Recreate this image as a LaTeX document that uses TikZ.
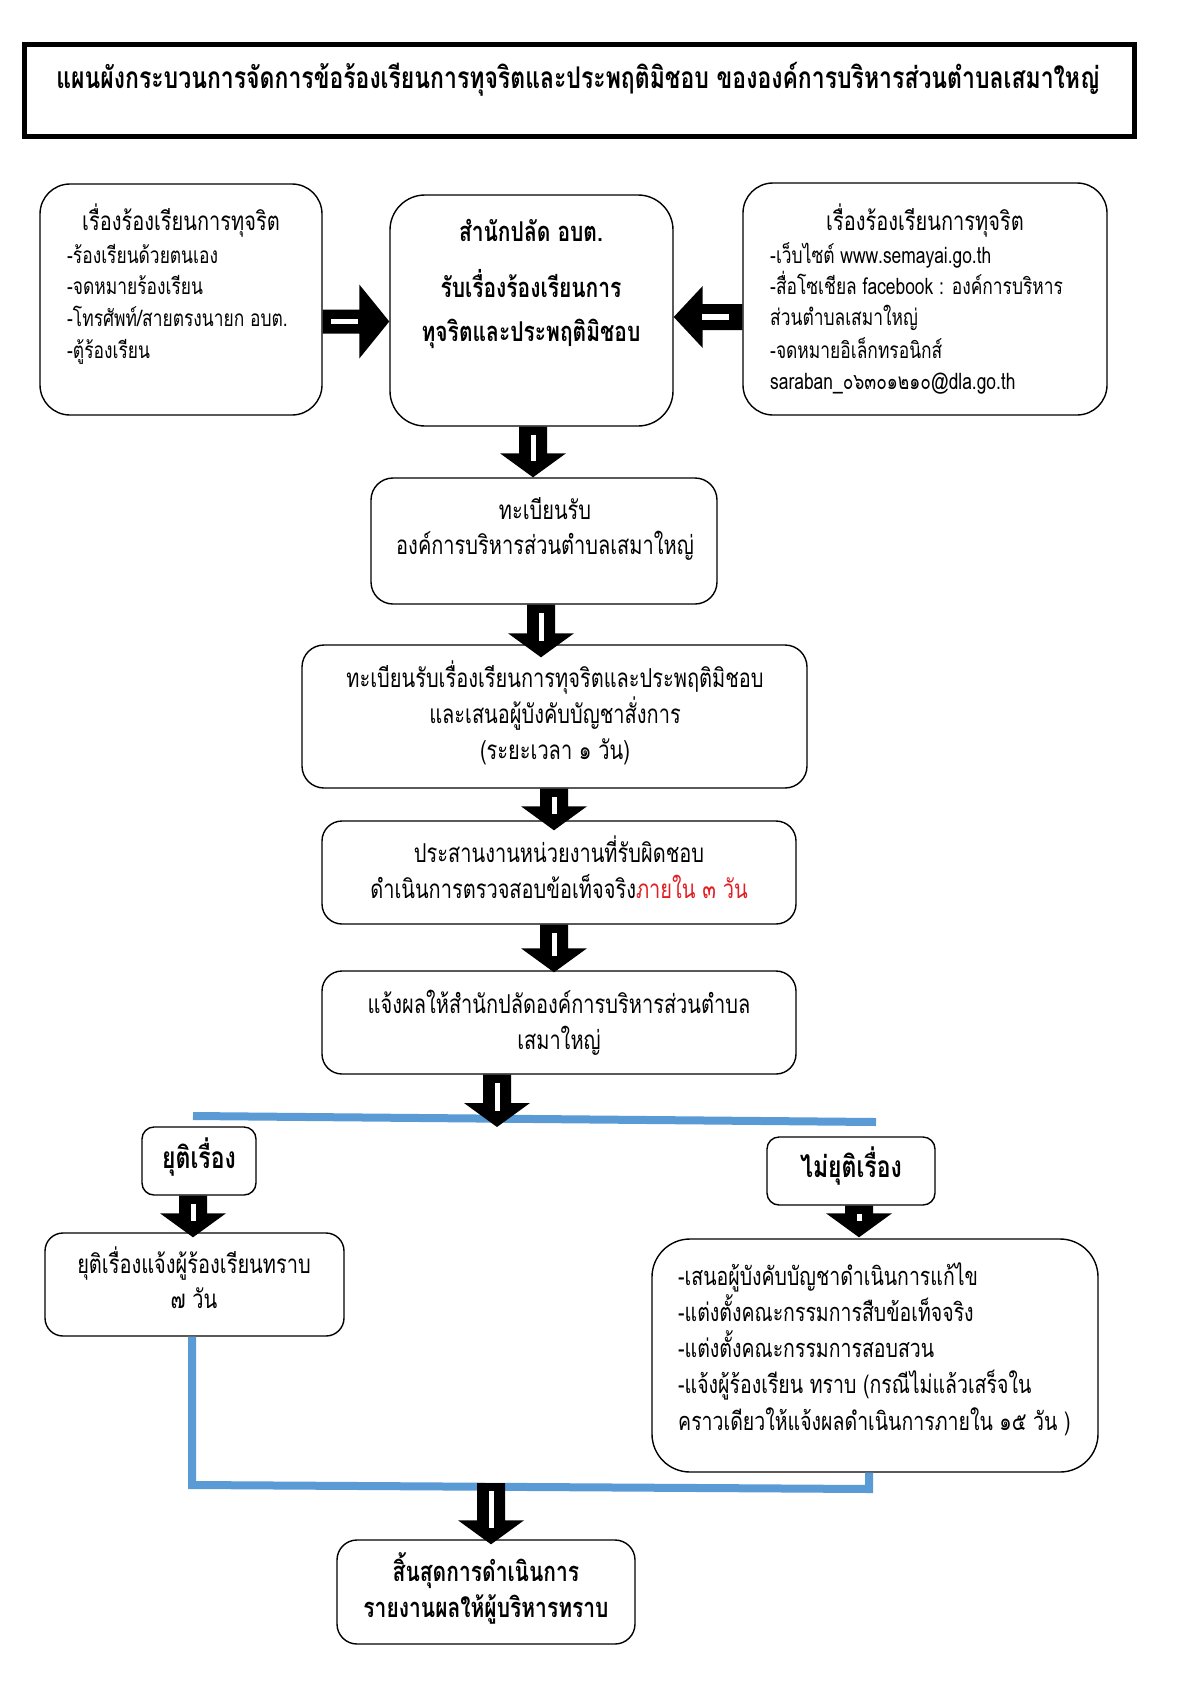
\documentclass[tikz,border=0pt]{standalone}
\usepackage{graphicx}
\usepackage{fontspec}
\setmainfont{Loma}[Script=Thai]
\usetikzlibrary{calc}
\definecolor{lineblue}{RGB}{91,155,213}
\definecolor{txtred}{RGB}{225,30,35}
\newcommand\vs[1]{\scalebox{1}[1.3]{#1}}
% block arrow pointing down: #1 start (top), #2 tip (y used)
\newcommand\blkdown[2]{%
 \fill let \p1=#1, \p2=#2 in (\x1-14pt,\y1) -- (\x1+14pt,\y1) -- (\x1+14pt,\y2+24pt) -- (\x1+33pt,\y2+24pt) -- (\x1,\y2) -- (\x1-33pt,\y2+24pt) -- (\x1-14pt,\y2+24pt) -- cycle;
 \fill[white] let \p1=#1, \p2=#2 in (\x1-2.5pt,\y1-8pt) rectangle (\x1+2.5pt,\y2+16pt);
}
% block arrow pointing right: #1 start, #2 tip
\newcommand\blkright[2]{%
 \fill let \p1=#1, \p2=#2 in (\x1,\y1+12pt) -- (\x2-30pt,\y1+12pt) -- (\x2-30pt,\y1+37pt) -- (\x2,\y1) -- (\x2-30pt,\y1-37pt) -- (\x2-30pt,\y1-12pt) -- (\x1,\y1-12pt) -- cycle;
 \fill[white] let \p1=#1, \p2=#2 in (\x2-58pt,\y1+2.5pt) rectangle (\x2-31pt,\y1-2.5pt);
}
% block arrow pointing left: #1 start, #2 tip
\newcommand\blkleft[2]{%
 \fill let \p1=#1, \p2=#2 in (\x1,\y1+13pt) -- (\x2+29pt,\y1+13pt) -- (\x2+29pt,\y1+31pt) -- (\x2,\y1) -- (\x2+29pt,\y1-31pt) -- (\x2+29pt,\y1-13pt) -- (\x1,\y1-13pt) -- cycle;
 \fill[white] let \p1=#1, \p2=#2 in (\x2+28pt,\y1+3pt) rectangle (\x2+55pt,\y1-3pt);
}
\tikzset{
 boxn/.style={draw, line width=1.4pt, inner sep=0pt},
 txtn/.style={inner sep=0pt, anchor=base, yshift=-6.5pt, font=\fontsize{20}{24}\selectfont},
 txtl/.style={txtn, anchor=base west},
 txts/.style={txtl, font=\fontsize{17.4}{21}\selectfont},
 txtm/.style={txtl, font=\fontsize{19.5}{23}\selectfont},
 txtb/.style={inner sep=0pt, anchor=base, yshift=-7pt, font=\fontsize{21}{25}\selectfont\bfseries},
 bline/.style={draw=lineblue, line width=8pt},
}
\begin{document}
\begin{tikzpicture}[x=1pt,y=-1pt]
\fill[white] (0,0) rectangle (1190,1683);
\useasboundingbox (0,0) rectangle (1190,1683);

% title
\node[draw, line width=5pt, minimum width=1110pt, minimum height=92pt, inner sep=0pt] (title) at (579,91) {};
\node[inner sep=0pt, anchor=base, yshift=-7.5pt, font=\fontsize{23}{27}\selectfont\bfseries] (titletext) at (578,81) {\vs{แผนผังกระบวนการจัดการข้อร้องเรียนการทุจริตและประพฤติมิชอบ ขององค์การบริหารส่วนตำบลเสมาใหญ่}};

% top row
\node[boxn, minimum width=282pt, minimum height=231pt, rounded corners=30pt] (lbox) at (181,299.5) {};
\node[boxn, minimum width=283pt, minimum height=231pt, rounded corners=35pt] (cbox) at (531.5,310.5) {};
\node[boxn, minimum width=364pt, minimum height=232pt, rounded corners=30pt] (rbox) at (925,299) {};

\node[txtn] (lh) at (181,224) {\vs{เรื่องร้องเรียนการทุจริต}};
\node[txts] (l1) at (67,257) {\vs{-ร้องเรียนด้วยตนเอง}};
\node[txts] (l2) at (67,288) {\vs{-จดหมายร้องเรียน}};
\node[txts] (l3) at (67,320) {\vs{-โทรศัพท์/สายตรงนายก อบต.}};
\node[txts] (l4) at (67,352) {\vs{-ตู้ร้องเรียน}};

\node[txtb] (c1) at (531,234) {\vs{สำนักปลัด อบต.}};
\node[txtb] (c2) at (531,290) {\vs{รับเรื่องร้องเรียนการ}};
\node[txtb] (c3) at (531,334) {\vs{ทุจริตและประพฤติมิชอบ}};

\node[txtn] (rh) at (925,224) {\vs{เรื่องร้องเรียนการทุจริต}};
\node[txts] (r1) at (770,257) {\vs{-เว็บไซต์ www.semayai.go.th}};
\node[txts] (r2) at (770,288) {\vs{-สื่อโซเชียล facebook : องค์การบริหาร}};
\node[txts] (r3) at (770,319) {\vs{ส่วนตำบลเสมาใหญ่}};
\node[txts] (r4) at (770,352) {\vs{-จดหมายอิเล็กทรอนิกส์}};
\node[txts] (r5) at (770,383) {\vs{saraban\_๐๖๓๐๑๒๑๐@dla.go.th}};

\blkright{([yshift=-22pt]lbox.east)}{(cbox.west)}
\blkleft{([yshift=-18pt]rbox.west)}{(cbox.east)}

% main column
\node[boxn, minimum width=346pt, minimum height=126pt, rounded corners=22pt] (reg1) at (544,541) {};
\node[txtn] (reg1a) at (545,513) {\vs{ทะเบียนรับ}};
\node[txtn] (reg1b) at (545,548) {\vs{องค์การบริหารส่วนตำบลเสมาใหญ่}};

\node[boxn, minimum width=505pt, minimum height=143pt, rounded corners=22pt] (reg2) at (554.5,716.5) {};
\node[txtn] (reg2a) at (555,681) {\vs{ทะเบียนรับเรื่องเรียนการทุจริตและประพฤติมิชอบ}};
\node[txtn] (reg2b) at (555,717) {\vs{และเสนอผู้บังคับบัญชาสั่งการ}};
\node[txtn] (reg2c) at (555,753) {\vs{(ระยะเวลา ๑ วัน)}};

\node[boxn, minimum width=474pt, minimum height=103pt, rounded corners=20pt] (coord) at (559,872.5) {};
\node[txtn] (coorda) at (559,856) {\vs{ประสานงานหน่วยงานที่รับผิดชอบ}};
\node[txtn] (coordb) at (559,892) {\vs{ดำเนินการตรวจสอบข้อเท็จจริง\textcolor{txtred}{ภายใน ๓ วัน}}};

\node[boxn, minimum width=474pt, minimum height=103pt, rounded corners=20pt] (notify) at (559,1022.5) {};
\node[txtn] (notifya) at (559,1007) {\vs{แจ้งผลให้สำนักปลัดองค์การบริหารส่วนตำบล}};
\node[txtn] (notifyb) at (559,1043) {\vs{เสมาใหญ่}};

\blkdown{([xshift=1.5pt]cbox.south)}{(reg1.north)}
\blkdown{([xshift=-3pt]reg1.south)}{([yshift=-13pt]reg2.north)}
\blkdown{([xshift=-0.5pt]reg2.south)}{([yshift=-10pt]coord.north)}
\blkdown{([xshift=-5pt]coord.south)}{([yshift=-2pt]notify.north)}

% split
\coordinate (splitL) at (193,1116);
\coordinate (splitR) at (876,1122);
\coordinate (splitM) at (497,1127);
\draw[bline] (splitL) -- (splitR);
\blkdown{([xshift=-62pt]notify.south)}{(splitM)}

\node[boxn, minimum width=114pt, minimum height=68pt, rounded corners=12pt] (yuti) at (199,1161) {};
\node[txtb, font=\fontsize{23}{27}\selectfont\bfseries] (yutit) at (199,1161) {\vs{ยุติเรื่อง}};
\node[boxn, minimum width=299pt, minimum height=103pt, rounded corners=18pt] (yutib) at (194.5,1284.5) {};
\node[txtn] (yutiba) at (194,1267) {\vs{ยุติเรื่องแจ้งผู้ร้องเรียนทราบ}};
\node[txtn] (yutibb) at (194,1302) {\vs{๗ วัน}};

\node[boxn, minimum width=168pt, minimum height=68pt, rounded corners=12pt] (myuti) at (851,1171) {};
\node[txtb, font=\fontsize{23}{27}\selectfont\bfseries] (myutit) at (851,1170) {\vs{ไม่ยุติเรื่อง}};
\node[boxn, minimum width=446pt, minimum height=233pt, rounded corners=38pt] (myutib) at (875,1355.5) {};
\node[txtm] (m1) at (678,1279) {\vs{-เสนอผู้บังคับบัญชาดำเนินการแก้ไข}};
\node[txtm] (m2) at (678,1315) {\vs{-แต่งตั้งคณะกรรมการสืบข้อเท็จจริง}};
\node[txtm] (m3) at (678,1351) {\vs{-แต่งตั้งคณะกรรมการสอบสวน}};
\node[txtm] (m4) at (678,1387) {\vs{-แจ้งผู้ร้องเรียน ทราบ (กรณีไม่แล้วเสร็จใน}};
\node[txtm] (m5) at (678,1424) {\vs{คราวเดียวให้แจ้งผลดำเนินการภายใน ๑๕ วัน )}};

\blkdown{([xshift=-6pt]yuti.south)}{([yshift=-5pt]yutib.north)}
\blkdown{([xshift=8pt]myuti.south)}{([yshift=1pt]myutib.north)}

% merge
\coordinate (mergeL) at (192,1485);
\coordinate (mergeR) at (869,1489);
\coordinate (mergeM) at (491,1483);
\draw[bline] ([xshift=-2.5pt]yutib.south) -- (mergeL) -- (mergeR) -- ([xshift=-6pt]myutib.south);

\node[boxn, minimum width=298pt, minimum height=104pt, rounded corners=20pt] (endb) at (486,1592) {};
\node[txtb] (enda) at (486,1574) {\vs{สิ้นสุดการดำเนินการ}};
\node[txtb] (endb2) at (486,1610) {\vs{รายงานผลให้ผู้บริหารทราบ}};

\blkdown{(mergeM)}{([yshift=-5pt]endb.north)}
\end{tikzpicture}
\end{document}
